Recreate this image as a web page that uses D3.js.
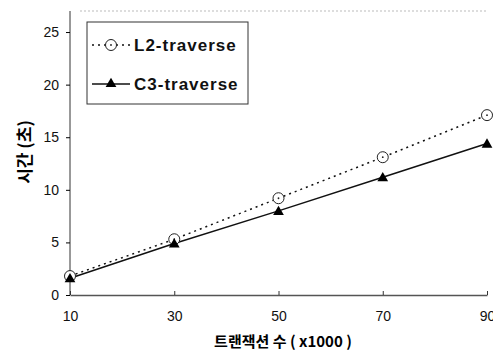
<!DOCTYPE html>
<html>
<head>
<meta charset="utf-8">
<script src="https://cdn.jsdelivr.net/npm/d3@7/dist/d3.min.js"></script>
<style>
  body { margin: 0; background: #fff; }
  text { font-family: "Liberation Sans", "Noto Sans CJK KR", sans-serif; }
  .kr { font-family: "Noto Sans CJK KR", sans-serif; }
</style>
</head>
<body>
<script>
const xValues = [10, 30, 50, 70, 90];
const l2Values = [1.8, 5.3, 9.2, 13.1, 17.1];
const c3Values = [1.6, 4.9, 8.0, 11.2, 14.4];
const yTicks = [0, 5, 10, 15, 20, 25];
const seriesNames = ["L2-traverse", "C3-traverse"];

const W = 493, H = 353;
const margin = { top: 11, right: 6, bottom: 58, left: 70 };

const svg = d3.select("body").append("svg")
    .attr("width", W).attr("height", H);

const x = d3.scaleLinear().domain([10, 90]).range([margin.left, 487]);
const y = d3.scaleLinear().domain([0, 27]).range([295, margin.top]);

// faint top border
svg.append("line")
    .attr("x1", 80).attr("x2", 487)
    .attr("y1", margin.top).attr("y2", margin.top)
    .attr("stroke", "#bbb").attr("stroke-dasharray", "2,2");

// y axis
const yAxis = svg.append("g")
    .attr("transform", `translate(${margin.left},0)`)
    .call(d3.axisLeft(y).tickValues(yTicks).tickSize(4).tickSizeOuter(0));
yAxis.select(".domain").attr("stroke", "#333").attr("d", `M0,${margin.top}V295`);
yAxis.selectAll("text").attr("font-size", 14).attr("fill", "#111").attr("dx", -4);

// x axis
const xAxis = svg.append("g")
    .attr("transform", "translate(0,295)")
    .call(d3.axisBottom(x).tickValues(xValues).tickSize(-4).tickSizeOuter(0));
xAxis.select(".domain").attr("stroke", "#555").attr("stroke-width", 1.5);
xAxis.selectAll(".tick line").attr("stroke", "#333");
xAxis.selectAll("text").attr("font-size", 14).attr("fill", "#111").attr("dy", 23);

// axis titles
svg.append("text")
    .attr("class", "kr")
    .attr("x", 283).attr("y", 347)
    .attr("text-anchor", "middle")
    .attr("font-size", 15).attr("font-weight", "bold")
    .text("트랜잭션 수 ( x1000 )");

svg.append("text")
    .attr("class", "kr")
    .attr("transform", "translate(31,152) rotate(-90)")
    .attr("text-anchor", "middle")
    .attr("font-size", 17).attr("font-weight", "bold")
    .text("시간 (초)");

const line = d3.line().x((d, i) => x(xValues[i])).y(d => y(d));

// L2 dotted
svg.append("path").datum(l2Values)
    .attr("d", line).attr("fill", "none")
    .attr("stroke", "#111").attr("stroke-width", 1.5)
    .attr("stroke-dasharray", "2,4");

// C3 solid
svg.append("path").datum(c3Values)
    .attr("d", line).attr("fill", "none")
    .attr("stroke", "#111").attr("stroke-width", 1.5);

const tri = d3.symbol().type(d3.symbolTriangle).size(50);

function circleMarker(g, cx, cy) {
  g.append("circle").attr("cx", cx).attr("cy", cy).attr("r", 5.5)
    .attr("fill", "#fff").attr("stroke", "#222").attr("stroke-width", 1);
  g.append("circle").attr("cx", cx).attr("cy", cy).attr("r", 0.9)
    .attr("fill", "#222");
}

const marks = svg.append("g");
l2Values.forEach((v, i) => circleMarker(marks, x(xValues[i]), y(v)));
marks.selectAll("path.tri").data(c3Values).join("path")
    .attr("class", "tri")
    .attr("d", tri)
    .attr("transform", (d, i) => `translate(${x(xValues[i])},${y(d) + 1})`)
    .attr("fill", "#000");

// legend
const lg = svg.append("g");
lg.append("rect").attr("x", 87).attr("y", 22).attr("width", 161).attr("height", 82)
    .attr("fill", "#fff").attr("stroke", "#333");
lg.append("line").attr("x1", 92).attr("x2", 130).attr("y1", 45).attr("y2", 45)
    .attr("stroke", "#111").attr("stroke-width", 1.5).attr("stroke-dasharray", "2,4");
circleMarker(lg, 111, 45);
lg.append("line").attr("x1", 92).attr("x2", 130).attr("y1", 84).attr("y2", 84)
    .attr("stroke", "#111").attr("stroke-width", 1.5);
lg.append("path").attr("d", tri).attr("transform", "translate(111,84)").attr("fill", "#000");
lg.selectAll("text.lab").data(seriesNames).join("text")
    .attr("class", "lab")
    .attr("x", 134).attr("y", (d, i) => 51 + i * 39)
    .attr("font-size", 17).attr("font-weight", "bold")
    .attr("letter-spacing", 1)
    .attr("fill", "#111")
    .text(d => d);
</script>
</body>
</html>
